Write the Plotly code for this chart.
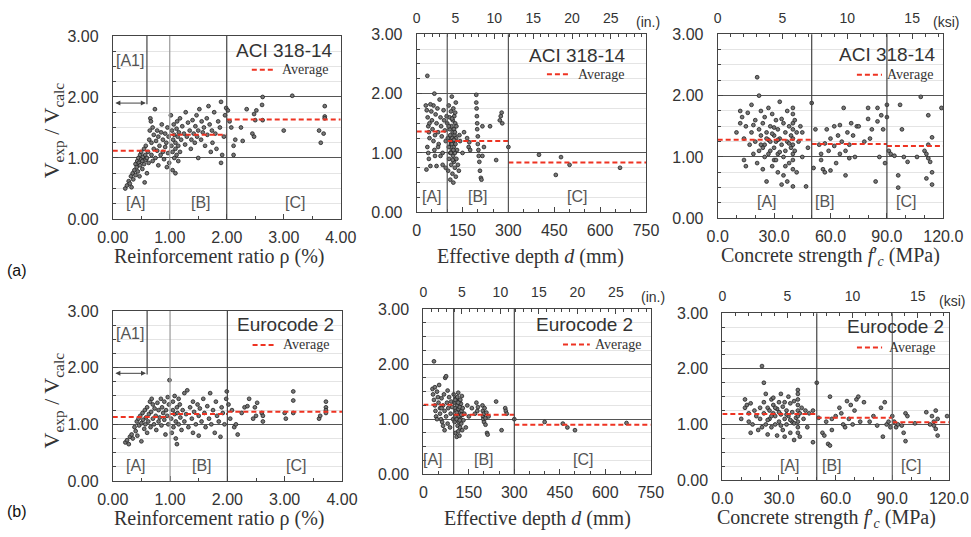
import plotly.graph_objects as go

# ---- values ----
# region boundaries on each x variable
rho_bounds = [0.0, 1.0, 2.0, 4.0]
d_bounds = [0, 100, 300, 750]
fc_bounds = [0.0, 50.0, 90.0, 120.0]
a1_limit = 0.6  # rho limit of region [A1]

# (a) ACI 318-14 vs reinforcement ratio
aci_rho_x = [0.22, 0.25, 0.28, 0.30, 0.32, 0.33, 0.35, 0.36, 0.38, 0.40, 0.40, 0.42, 0.43, 0.44, 0.45, 0.46, 0.47,
             0.48, 0.48, 0.50, 0.50, 0.52, 0.52, 0.53, 0.55, 0.55, 0.56, 0.57, 0.58, 0.58, 0.60, 0.60, 0.62, 0.63,
             0.64, 0.65, 0.66, 0.67, 0.68, 0.68, 0.70, 0.70, 0.72, 0.72, 0.74, 0.75, 0.76, 0.78, 0.78, 0.80, 0.80,
             0.82, 0.84, 0.85, 0.86, 0.88, 0.88, 0.90, 0.92, 0.92, 0.94, 0.95, 0.96, 0.97, 0.98, 0.99,
             1.02, 1.03, 1.04, 1.05, 1.05, 1.06, 1.07, 1.08, 1.08, 1.10, 1.10, 1.10, 1.12, 1.12, 1.13, 1.14, 1.15,
             1.15, 1.16, 1.18, 1.18, 1.20, 1.22, 1.25, 1.27, 1.28, 1.30, 1.32, 1.35, 1.37, 1.38, 1.40, 1.42, 1.44,
             1.45, 1.47, 1.48, 1.50, 1.50, 1.52, 1.55, 1.56, 1.58, 1.60, 1.62, 1.65, 1.66, 1.68, 1.70, 1.72, 1.74,
             1.75, 1.78, 1.80, 1.82, 1.85, 1.88, 1.90, 1.90, 1.92, 1.95, 1.97, 1.99,
             2.02, 2.05, 2.08, 2.12, 2.12, 2.15, 2.25, 2.28, 2.35, 2.45, 2.48, 2.48, 2.50, 2.52, 2.62, 2.63, 2.63,
             3.00, 3.15, 3.62, 3.65, 3.70, 3.72, 3.72, 3.72]
aci_rho_y = [0.50, 0.55, 0.62, 0.58, 0.70, 0.52, 0.75, 0.65, 0.80, 0.72, 0.90, 0.85, 0.95, 0.78, 1.00, 0.92, 0.70,
             1.05, 0.88, 0.98, 1.10, 0.95, 0.82, 1.02, 0.90, 1.15, 0.60, 1.05, 0.97, 1.20, 1.00, 0.75, 1.10, 0.92,
             1.30, 1.45, 1.65, 1.60, 1.25, 1.05, 1.50, 0.95, 1.15, 1.38, 1.80, 1.00, 1.28, 1.12, 1.45, 1.35, 0.88,
             1.20, 1.05, 1.42, 1.55, 1.10, 1.30, 0.98, 1.40, 1.18, 1.25, 0.85, 1.50, 1.08, 1.35, 0.92,
             1.70, 1.20, 1.45, 0.80, 1.10, 1.30, 1.55, 1.00, 1.38, 0.75, 1.25, 1.15, 1.48, 1.05, 1.60, 1.35, 1.20,
             0.95, 1.42, 1.10, 1.65, 1.30, 1.52, 1.40, 1.22, 1.75, 1.35, 1.58, 1.45, 1.15, 1.30, 1.62, 1.40, 1.25,
             1.52, 1.70, 1.35, 1.00, 1.45, 1.80, 1.30, 1.60, 1.42, 1.50, 1.20, 1.65, 1.38, 1.85, 1.55, 1.10, 1.45,
             1.25, 1.75, 1.40, 1.15, 1.60, 1.50, 1.92, 0.92, 1.05, 1.35, 1.70, 1.82,
             1.78, 1.60, 1.50, 1.20, 1.05, 1.30, 1.50, 1.28, 1.80, 1.40, 1.72, 1.35, 1.62, 1.78, 1.87, 2.00, 1.62,
             1.45, 2.02, 1.45, 1.25, 1.40, 1.85, 1.68, 1.65]
aci_rho_avg = [1.12, 1.38, 1.63]

# (a) ACI 318-14 vs effective depth (mm)
aci_d_x = [35, 58, 30, 33, 36, 38, 40, 42, 35, 38, 40, 45, 32, 48, 50, 52, 55, 55, 58, 60, 62, 65, 68, 70, 72, 75,
           78, 80, 82, 85, 85, 88, 90, 92, 95, 95, 98, 45, 42, 60, 65, 70, 78,
           100, 102, 103, 105, 105, 106, 108, 108, 110, 110, 110, 112, 112, 113, 114, 115, 115, 116, 117, 118, 118,
           119, 120, 120, 120, 121, 122, 122, 123, 124, 125, 125, 126, 127, 128, 128, 129, 130, 130, 132, 135, 138,
           140, 142, 110, 115, 120, 125, 105, 112, 118, 122, 126, 116,
           150, 155, 165, 170, 172, 175, 195, 195, 196, 197, 198, 198, 200, 200, 202, 203, 205, 207, 210, 212, 215,
           215, 220, 240, 260, 272, 275, 278, 280, 300,
           400, 455, 472, 500, 665]
aci_d_y = [2.30, 2.00, 1.80, 1.72, 1.60, 1.45, 1.35, 1.25, 1.10, 1.00, 0.90, 0.78, 0.72, 1.70, 1.55, 1.40, 1.80, 1.20,
           1.05, 0.95, 1.65, 1.50, 1.75, 1.35, 1.15, 1.90, 1.60, 1.45, 1.28, 1.00, 0.80, 1.72, 1.55, 1.38, 1.20, 0.75,
           1.62, 1.82, 1.50, 1.30, 0.78, 1.10, 0.95,
           1.50, 1.25, 0.70, 1.80, 1.10, 0.90, 1.40, 1.60, 1.00, 1.30, 0.55, 1.70, 1.15, 0.80, 1.45, 1.95, 1.05,
           1.25, 0.65, 1.55, 1.35, 0.95, 1.20, 1.75, 0.50, 1.10, 1.40, 0.85, 1.62, 1.30, 1.00, 0.75, 1.50, 1.15,
           1.85, 0.60, 1.25, 0.90, 1.45, 1.05, 0.80, 0.70, 1.30, 1.20, 1.20, 1.15, 1.05, 1.35, 1.45, 1.00, 0.88,
           1.22, 1.68, 1.58,
           1.00, 1.35, 1.25, 1.10, 1.18, 1.05, 1.98, 1.85, 1.75, 1.62, 1.50, 1.40, 1.28, 1.15, 1.05, 0.95, 0.85,
           0.70, 0.58, 0.55, 1.45, 0.95, 1.10, 1.45, 0.88, 1.55, 1.62, 1.68, 1.50, 1.10,
           0.97, 0.63, 0.93, 0.80, 0.75]
aci_d_avg = [1.36, 1.20, 0.84]

# (a) ACI 318-14 vs concrete strength (MPa)
aci_fc_x = [10, 12, 12, 13, 14, 14, 15, 15, 16, 17, 18, 18, 19, 20, 20, 21, 21, 22, 22, 22, 23, 23, 24, 24, 25, 25,
            25, 26, 26, 27, 27, 28, 28, 29, 29, 30, 30, 30, 31, 31, 32, 32, 32, 33, 33, 34, 34, 35, 35, 35, 36, 36,
            37, 37, 37, 38, 38, 39, 39, 40, 40, 40, 40, 40, 40, 40, 40, 40, 40, 41, 41, 42, 42, 43, 44, 45, 45, 47,
            48, 50, 28, 26, 24, 30, 33, 36, 34, 31, 38, 27, 29, 32, 23, 19,
            51, 52, 54, 55, 55, 56, 57, 57, 58, 59, 60, 60, 62, 62, 63, 64, 65, 65, 66, 67, 68, 68, 69, 70, 70, 71,
            72, 73, 74, 75, 78, 80, 80, 81, 82, 84, 85, 85, 86, 87, 88, 89, 90, 90,
            91, 92, 94, 96, 96, 97, 98, 99, 101, 106, 108, 110, 111, 111, 112, 112, 112, 113, 114, 114, 114, 119]
aci_fc_y = [1.40, 1.75, 1.55, 1.65, 1.30, 0.95, 0.85, 1.50, 1.72, 1.20, 1.85, 1.40, 1.05, 1.60, 1.25, 2.30, 0.90,
            2.00, 1.45, 1.10, 1.75, 1.35, 1.55, 0.80, 1.20, 1.65, 1.00, 1.40, 0.60, 1.80, 1.28, 1.10, 1.50, 0.85,
            1.70, 1.35, 1.15, 0.95, 1.60, 1.25, 1.45, 1.05, 0.75, 1.90, 1.30, 1.20, 0.55, 1.55, 1.00, 0.70, 1.40,
            1.10, 1.75, 1.25, 0.60, 0.90, 1.50, 1.35, 1.15, 1.80, 1.70, 1.55, 1.45, 1.30, 1.20, 1.05, 0.95, 0.80,
            0.52, 1.60, 1.10, 1.40, 0.75, 1.25, 1.50, 1.00, 1.40, 0.52, 1.15, 1.88, 1.25, 1.30, 1.15, 1.48, 1.08,
            0.85, 1.62, 0.95, 1.22, 1.05, 1.38, 1.28, 1.20, 1.52,
            0.82, 1.45, 1.20, 1.05, 0.95, 0.80, 1.22, 0.75, 1.45, 1.10, 0.78, 1.30, 1.50, 1.18, 0.90, 1.35, 1.05,
            1.52, 1.25, 1.80, 0.70, 1.10, 1.40, 1.20, 0.98, 1.55, 1.35, 1.00, 1.50, 1.50, 1.25, 1.80, 1.62, 1.30,
            1.45, 0.60, 1.80, 1.58, 1.00, 1.68, 1.45, 0.90, 1.85, 1.65,
            1.10, 1.05, 1.02, 0.70, 0.50, 1.85, 1.45, 1.00, 0.92, 1.00, 1.98, 1.10, 1.05, 0.65, 1.68, 1.20, 0.98,
            0.92, 1.32, 0.75, 0.55, 1.80]
aci_fc_avg = [1.28, 1.21, 1.18]

# (b) Eurocode 2 vs reinforcement ratio
ec2_rho_x = [0.22, 0.25, 0.28, 0.30, 0.33, 0.35, 0.38, 0.40, 0.42, 0.43, 0.45, 0.46, 0.48, 0.50, 0.50, 0.52, 0.53,
             0.55, 0.56, 0.57, 0.58, 0.60, 0.60, 0.62, 0.63, 0.65, 0.66, 0.67, 0.68, 0.70, 0.70, 0.72, 0.73, 0.75,
             0.76, 0.78, 0.80, 0.80, 0.82, 0.84, 0.85, 0.86, 0.88, 0.90, 0.90, 0.92, 0.93, 0.95, 0.96, 0.97, 0.98,
             0.99,
             1.02, 1.03, 1.05, 1.05, 1.06, 1.08, 1.08, 1.10, 1.10, 1.12, 1.12, 1.13, 1.15, 1.15, 1.17, 1.18, 1.20,
             1.22, 1.25, 1.25, 1.28, 1.30, 1.32, 1.35, 1.38, 1.40, 1.40, 1.42, 1.45, 1.48, 1.50, 1.50, 1.52, 1.55,
             1.58, 1.60, 1.62, 1.65, 1.68, 1.70, 1.72, 1.75, 1.78, 1.80, 1.82, 1.85, 1.88, 1.90, 1.92, 1.95, 1.98,
             1.99,
             2.02, 2.05, 2.08, 2.12, 2.15, 2.18, 2.25, 2.30, 2.35, 2.38, 2.45, 2.48, 2.50, 2.52, 2.60, 2.62, 2.62,
             3.00, 3.02, 3.15, 3.15, 3.15, 3.60, 3.62, 3.72, 3.72, 3.72, 3.72]
ec2_rho_y = [0.68, 0.72, 0.65, 0.78, 0.82, 0.75, 0.95, 0.88, 1.05, 0.80, 1.10, 0.98, 1.15, 1.02, 0.70, 1.20, 1.08,
             0.92, 1.25, 1.00, 1.12, 1.30, 0.85, 1.05, 1.18, 1.40, 0.95, 1.22, 1.45, 1.10, 1.35, 1.00, 1.28, 1.15,
             0.90, 1.38, 1.05, 1.25, 1.12, 1.45, 0.98, 1.30, 1.20, 1.08, 1.40, 0.82, 1.25, 1.15, 1.48, 1.00, 1.35,
             1.78,
             1.10, 0.85, 1.25, 1.40, 0.95, 1.18, 1.50, 1.05, 0.75, 1.30, 0.65, 1.20, 1.45, 1.00, 1.35, 1.12, 0.90,
             1.25, 1.55, 1.05, 1.18, 1.60, 0.95, 1.30, 1.10, 1.40, 0.85, 1.22, 1.00, 1.35, 1.15, 0.80, 1.28, 1.05,
             1.45, 1.20, 0.95, 1.32, 1.10, 1.55, 1.00, 1.25, 0.85, 1.40, 1.15, 1.05, 0.78, 1.30, 1.20, 1.00, 1.45,
             1.58,
             1.35, 1.10, 1.25, 0.95, 1.00, 0.82, 1.20, 1.30, 1.32, 1.45, 1.10, 1.30, 1.15, 1.38, 1.20, 1.05, 1.15,
             1.20, 1.10, 1.58, 1.42, 1.20, 1.10, 1.15, 1.40, 1.30, 1.25, 1.20]
ec2_rho_avg = [1.13, 1.18, 1.22]

# (b) Eurocode 2 vs effective depth (mm)
ec2_d_x = [35, 30, 32, 35, 38, 40, 42, 45, 48, 50, 52, 55, 55, 58, 60, 62, 65, 65, 68, 70, 72, 75, 75, 78, 80, 82,
           85, 88, 90, 92, 95, 98, 38, 45, 60, 70, 80,
           100, 102, 103, 105, 105, 106, 108, 108, 110, 110, 112, 112, 113, 114, 115, 115, 116, 117, 118, 118, 119,
           120, 120, 121, 122, 123, 124, 125, 126, 127, 128, 129, 130, 132, 135, 140, 145, 150, 110, 115, 120, 125,
           105,
           160, 170, 175, 178, 180, 195, 196, 197, 198, 200, 200, 202, 205, 205, 208, 210, 212, 215, 240, 258, 270,
           272, 275, 300,
           400, 460, 475, 500, 670]
ec2_d_y = [2.05, 1.55, 1.45, 1.35, 1.25, 1.15, 1.05, 1.50, 1.40, 1.30, 1.62, 1.20, 1.10, 1.00, 1.38, 0.95, 0.88,
           1.25, 1.45, 1.15, 1.75, 1.78, 1.05, 1.30, 0.92, 1.20, 1.40, 0.85, 1.10, 1.32, 1.22, 1.00, 1.58, 1.00,
           1.20, 0.80, 1.52,
           1.45, 1.30, 0.95, 1.20, 1.05, 0.75, 1.38, 1.15, 1.00, 0.68, 1.25, 1.40, 0.88, 1.10, 1.48, 0.78, 1.18,
           0.95, 1.32, 1.05, 0.70, 1.22, 1.12, 0.85, 1.35, 1.00, 1.28, 0.92, 1.15, 1.42, 0.80, 1.08, 1.20, 0.98,
           1.10, 0.85, 1.25, 1.05, 1.12, 1.30, 0.98, 1.08, 1.35,
           1.20, 1.10, 1.30, 1.15, 1.22, 1.25, 1.15, 1.05, 1.00, 0.95, 1.10, 1.20, 0.90, 1.02, 1.12, 0.75, 0.72,
           1.05, 1.32, 0.80, 1.20, 1.15, 1.10, 1.00,
           0.95, 0.92, 0.85, 0.80, 0.93]
ec2_d_avg = [1.26, 1.08, 0.90]

# (b) Eurocode 2 vs concrete strength (MPa)
ec2_fc_x = [10, 12, 12, 13, 14, 14, 15, 15, 16, 17, 18, 19, 20, 20, 21, 21, 22, 22, 22, 23, 23, 24, 24, 25, 25, 26,
            26, 27, 27, 28, 28, 29, 29, 30, 30, 31, 31, 32, 32, 33, 33, 34, 34, 35, 35, 36, 36, 37, 37, 38, 38, 39,
            40, 40, 40, 40, 40, 40, 40, 40, 40, 41, 41, 42, 43, 44, 45, 46, 48, 48, 50, 26, 28, 24, 30, 33, 36, 31,
            27, 38, 34,
            51, 53, 54, 55, 56, 57, 57, 58, 58, 60, 62, 63, 64, 65, 66, 67, 68, 69, 70, 71, 72, 73, 75, 78, 80, 82,
            84, 85, 86, 87, 88, 89, 90,
            91, 92, 93, 95, 96, 97, 97, 98, 102, 108, 110, 111, 112, 112, 113, 113, 114, 114, 119]
ec2_fc_y = [1.10, 1.45, 1.30, 1.35, 1.20, 1.05, 0.85, 1.38, 1.00, 1.25, 1.15, 0.90, 1.30, 1.10, 2.05, 0.95, 1.75,
            1.40, 1.20, 1.55, 1.00, 1.30, 0.82, 1.25, 1.10, 1.45, 0.95, 1.20, 1.35, 1.00, 1.15, 0.80, 1.28, 1.40,
            1.05, 1.55, 1.18, 0.90, 1.32, 1.10, 0.78, 1.25, 1.00, 1.50, 1.15, 0.85, 1.38, 1.05, 1.22, 0.72, 1.42,
            1.12, 1.62, 1.55, 1.45, 1.35, 1.25, 1.15, 1.05, 0.95, 0.85, 1.20, 0.78, 1.30, 1.10, 1.25, 0.95, 1.20,
            1.25, 0.68, 1.75, 1.15, 1.30, 1.08, 1.22, 1.40, 1.08, 0.98, 1.48, 1.02, 1.18,
            1.12, 0.85, 0.80, 1.05, 0.65, 0.62, 1.50, 1.10, 0.90, 1.15, 1.30, 1.20, 1.00, 0.95, 1.42, 1.10, 1.35,
            1.00, 1.25, 1.45, 1.50, 1.05, 1.40, 1.05, 1.15, 0.98, 1.30, 0.78, 1.40, 1.00, 1.05, 0.95, 1.15,
            1.05, 0.95, 1.00, 0.98, 0.85, 0.70, 1.20, 1.15, 1.02, 1.22, 1.00, 1.15, 1.05, 0.98, 1.25, 0.92, 1.10,
            0.80, 1.15]
ec2_fc_avg = [1.19, 1.12, 1.04]

# ---- layout of the six panels (paper fractions) ----
panels = [
    dict(x=aci_rho_x, y=aci_rho_y, avg=aci_rho_avg, bounds=rho_bounds, code="ACI 318-14",
         xdom=[0.1161, 0.3509], ydom=[0.5922, 0.9330], dtick=1, minor=0.5, fmt=".2f",
         vlines=[(1.0, "#9a9a9a"), (2.0, "#444")], labels=[0.40, 1.55, 3.2],
         title_pos=(0.975, 0.92), leg=(0.61, 0.71, 0.735, 0.815), top=None),
    dict(x=aci_d_x, y=aci_d_y, avg=aci_d_avg, bounds=d_bounds, code="ACI 318-14",
         xdom=[0.4291, 0.6653], ydom=[0.6047, 0.9361], dtick=150, minor=50, fmt="d",
         vlines=[(100, "#555"), (300, "#555")], labels=[50, 200, 525],
         title_pos=(0.92, 0.88), leg=(0.568, 0.669, 0.695, 0.775), top=("in", 25.4)),
    dict(x=aci_fc_x, y=aci_fc_y, avg=aci_fc_avg, bounds=fc_bounds, code="ACI 318-14",
         xdom=[0.7391, 0.9715], ydom=[0.5935, 0.9361], dtick=30, minor=10, fmt=".1f",
         vlines=[(50, "#444"), (90, "#444")], labels=[26, 57, 100],
         title_pos=(0.977, 0.89), leg=(0.617, 0.728, 0.741, 0.78), top=("ksi", 6.895)),
    dict(x=ec2_rho_x, y=ec2_rho_y, avg=ec2_rho_avg, bounds=rho_bounds, code="Eurocode 2",
         xdom=[0.1161, 0.3522], ydom=[0.1043, 0.4209], dtick=1, minor=0.5, fmt=".2f",
         vlines=[(1.0, "#9a9a9a"), (2.0, "#444")], labels=[0.40, 1.55, 3.2],
         title_pos=(0.975, 0.92), leg=(0.61, 0.71, 0.735, 0.80), top=None),
    dict(x=ec2_d_x, y=ec2_d_y, avg=ec2_d_avg, bounds=d_bounds, code="Eurocode 2",
         xdom=[0.4360, 0.6702], ydom=[0.1168, 0.4246], dtick=150, minor=50, fmt="d",
         vlines=[(100, "#444"), (300, "#444")], labels=[32, 200, 525],
         title_pos=(0.93, 0.905), leg=(0.614, 0.732, 0.747, 0.785), top=("in", 25.4)),
    dict(x=ec2_fc_x, y=ec2_fc_y, avg=ec2_fc_avg, bounds=fc_bounds, code="Eurocode 2",
         xdom=[0.7439, 0.9773], ydom=[0.1061, 0.4166], dtick=30, minor=10, fmt=".1f",
         vlines=[(50, "#444"), (90, "#666")], labels=[36, 58, 100],
         title_pos=(0.987, 0.92), leg=(0.594, 0.705, 0.726, 0.795), top=("ksi", 6.895)),
]

SANS = "Liberation Sans, Arial, sans-serif"
SERIF = "Liberation Serif, Times New Roman, serif"
RED = "#ee3322"
TXT = "#333"
DASH = "5px,3px"

fig = go.Figure()
layout = dict(template="none", width=971, height=537, margin=dict(l=0, r=0, t=0, b=0, pad=0),
              paper_bgcolor="white", plot_bgcolor="white", showlegend=False)
shapes, annotations = [], []
top_n = 7

for i, p in enumerate(panels, start=1):
    xa, ya = ("x" if i == 1 else f"x{i}"), ("y" if i == 1 else f"y{i}")
    xkey, ykey = ("xaxis" if i == 1 else f"xaxis{i}"), ("yaxis" if i == 1 else f"yaxis{i}")

    fig.add_trace(go.Scatter(x=p["x"], y=p["y"], mode="markers", xaxis=xa, yaxis=ya,
                             marker=dict(size=3.8, color="#777", line=dict(color="#222", width=0.8))))
    # average of each region
    b = p["bounds"]
    for k, avg in enumerate(p["avg"]):
        fig.add_trace(go.Scatter(x=[b[k], b[k + 1]], y=[avg, avg], mode="lines", xaxis=xa, yaxis=ya,
                                 line=dict(color=RED, width=2, dash=DASH), hoverinfo="skip"))

    layout[xkey] = dict(domain=p["xdom"], anchor=ya, range=[b[0], b[-1]], dtick=p["dtick"], tick0=0,
                        tickformat=p["fmt"], ticks="inside", ticklen=5, tickcolor="#444", automargin=False,
                        ticklabelstandoff=4,
                        minor=dict(dtick=p["minor"], ticks="inside", ticklen=3, tickcolor="#444",
                                   showgrid=False),
                        showgrid=False, zeroline=False, showline=True, linecolor="#444", linewidth=1,
                        mirror=True, tickfont=dict(family=SANS, size=16, color=TXT))
    layout[ykey] = dict(domain=p["ydom"], anchor=xa, range=[0, 3], dtick=1, tickformat=".2f",
                        ticks="inside", ticklen=5, tickcolor="#444", automargin=False,
                        ticklabelstandoff=10,
                        showgrid=True, gridcolor="#555", gridwidth=1, zeroline=False,
                        minor=dict(dtick=0.25, ticks="inside", ticklen=3, tickcolor="#444",
                                   showgrid=True, gridcolor="#e4e4e4"),
                        showline=True, linecolor="#444", linewidth=1, mirror=True,
                        tickfont=dict(family=SANS, size=16, color=TXT))

    # imperial units on the top axis
    if p["top"] is not None:
        unit, factor = p["top"]
        tkey = f"xaxis{top_n}"
        layout[tkey] = dict(overlaying=xa, anchor=ya, side="top", range=[b[0] / factor, b[-1] / factor],
                            dtick=5, tick0=0, ticks="inside", ticklen=5, tickcolor="#444", automargin=False,
                            ticklabelstandoff=8,
                            minor=dict(dtick=1, ticks="inside", ticklen=3, tickcolor="#444", showgrid=False),
                            showgrid=False, zeroline=False, showline=False,
                            tickfont=dict(family=SANS, size=14, color=TXT))
        fig.add_trace(go.Scatter(x=[], y=[], xaxis=f"x{top_n}", yaxis=ya, mode="markers"))
        top_n += 1
        annotations.append(dict(text=f"({unit}.)" if unit == "in" else f"({unit})", xref=f"{xa} domain",
                                yref=f"{ya} domain", x=1.0, y=1.0, yshift=12, xanchor="left", xshift=-12,
                                yanchor="middle", showarrow=False,
                                font=dict(family=SANS, size=14, color=TXT)))

    # region boundaries
    for xv, col in p["vlines"]:
        shapes.append(dict(type="line", xref=xa, yref=f"{ya} domain", x0=xv, x1=xv, y0=0, y1=1,
                           line=dict(color=col, width=1.2)))
    for lx, lt in zip(p["labels"], ["[A]", "[B]", "[C]"]):
        annotations.append(dict(text=lt, x=lx, y=0.27, xref=xa, yref=ya, showarrow=False,
                                font=dict(family=SANS, size=16, color="#555")))

    # code name and legend entry
    tx, ty = p["title_pos"]
    annotations.append(dict(text=p["code"], xref=f"{xa} domain", yref=f"{ya} domain", x=tx, y=ty,
                            xanchor="right", yanchor="middle", showarrow=False,
                            font=dict(family=SANS, size=19, color=TXT)))
    lx0, lx1, ltx, ly = p["leg"]
    shapes.append(dict(type="line", xref=f"{xa} domain", yref=f"{ya} domain", x0=lx0, x1=lx1, y0=ly, y1=ly,
                       line=dict(color=RED, width=2, dash=DASH)))
    annotations.append(dict(text="Average", xref=f"{xa} domain", yref=f"{ya} domain", x=ltx, y=ly,
                            xanchor="left", yanchor="middle", showarrow=False,
                            font=dict(family=SERIF, size=14, color=TXT)))

    # region [A1] marker on the rho panels
    if p["bounds"] is rho_bounds:
        shapes.append(dict(type="line", xref=xa, yref=ya, x0=a1_limit, x1=a1_limit, y0=1.88, y1=3.0,
                           line=dict(color="#444", width=1.2)))
        annotations.append(dict(text="[A1]", x=a1_limit / 2, y=2.6, xref=xa, yref=ya, showarrow=False,
                                font=dict(family=SANS, size=16, color="#555")))
        annotations.append(dict(text="", x=a1_limit - 0.02, y=1.9, ax=0.02, ay=1.9, xref=xa, yref=ya,
                                axref=xa, ayref=ya, showarrow=True, arrowhead=2, arrowside="end+start",
                                arrowsize=1, arrowwidth=1, arrowcolor="#444"))

# axis titles
rho_t = "Reinforcement ratio ρ (%)"
d_t = "Effective depth <i>d</i> (mm)"
fc_t = "Concrete strength <i>f</i>′<sub><i>c</i></sub> (MPa)"
for xt, yt, t in [(0.2255, 0.523, rho_t), (0.546, 0.523, d_t), (0.855, 0.523, fc_t),
                  (0.2255, 0.035, rho_t), (0.5536, 0.035, d_t), (0.851, 0.035, fc_t)]:
    annotations.append(dict(text=t, x=xt, y=yt, xref="paper", yref="paper", showarrow=False,
                            xanchor="center", yanchor="middle", font=dict(family=SERIF, size=20, color=TXT)))
ylab = "V<sub>exp</sub> / V<sub>calc</sub>"
for yc in [0.758, 0.255]:
    annotations.append(dict(text=ylab, x=0.055, y=yc, xref="paper", yref="paper", textangle=-90,
                            xanchor="center", yanchor="middle",
                            showarrow=False, font=dict(family=SERIF, size=22, color=TXT)))
for lab, yc in [("(a)", 0.497), ("(b)", 0.028)]:
    annotations.append(dict(text=lab, x=0.005, y=yc, xref="paper", yref="paper", xanchor="left",
                            showarrow=False, font=dict(family=SANS, size=16, color="#111")))

layout["shapes"] = shapes
layout["annotations"] = annotations
fig.update_layout(**layout)
# drop the page's default body margin so the figure sits at the window's top-left corner
fig.write_html("out.html", config={"displayModeBar": False},
               post_script="document.body.style.margin = '0px';")
